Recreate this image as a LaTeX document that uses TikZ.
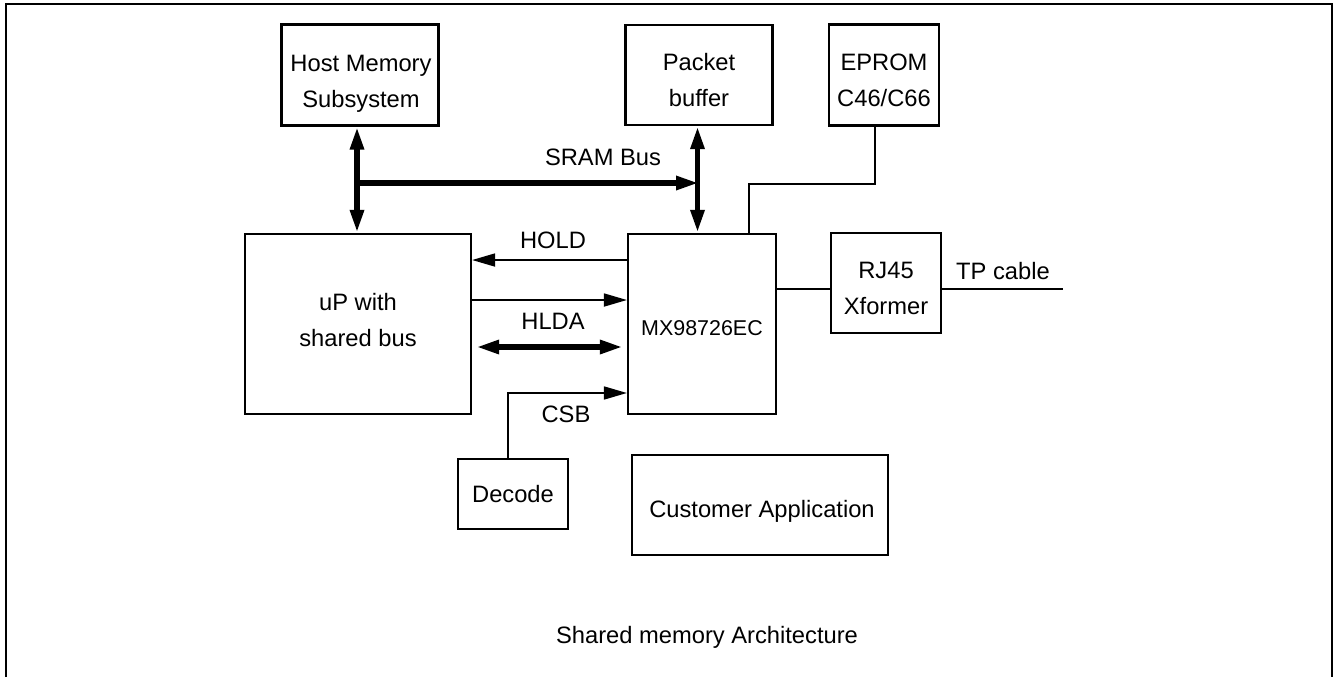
\documentclass[tikz,border=0pt]{standalone}
\usepackage{fontspec}
\setmainfont{Liberation Sans}
\usetikzlibrary{arrows.meta}

\begin{document}
\begin{tikzpicture}[x=0.02cm,y=-0.02cm,>={Triangle[length=0.46cm,width=0.26cm]},
    blk/.style={draw,line width=1.3pt,inner sep=0pt},
    txt/.style={align=center,font=\fontsize{13.5}{20.5}\selectfont},
    sig/.style={line width=1pt},
    bus/.style={line width=3.2pt}]
  \useasboundingbox (0,0) rectangle (1334,677);
  \draw[line width=1.5pt] (6,677)--(6,4)--(1332,4)--(1332,677);

  % blocks
  \node[blk,minimum width=3.14cm,minimum height=2.02cm] (host) at (360,75) {};
  \node[blk,minimum width=2.94cm,minimum height=2cm] (pbuf) at (699,75) {};
  \node[blk,minimum width=2.2cm,minimum height=2.02cm] (eprom) at (884,75) {};
  \node[blk,minimum width=4.52cm,minimum height=3.6cm] (up) at (358,324) {};
  \node[blk,minimum width=2.96cm,minimum height=3.6cm] (mx) at (702,324) {};
  \node[blk,minimum width=2.2cm,minimum height=2cm] (rj) at (886,283) {};
  \node[blk,minimum width=2.2cm,minimum height=1.4cm] (dec) at (513,494) {};
  \node[blk,minimum width=5.12cm,minimum height=2cm] (cust) at (760,505) {};

  \node[txt] (hosttxt) at (361,84) {Host Memory\\Subsystem};
  \node[txt] (pbuftxt) at (699,80) {Packet\\buffer};
  \node[txt] (epromtxt) at (884,80) {EPROM\\C46/C66};
  \node[txt] (uptxt) at (358,320) {uP with\\shared bus};
  \node[txt,font=\fontsize{12.2}{15}\selectfont] (mxtxt) at (702,328) {MX98726EC};
  \node[txt] (rjtxt) at (886,288) {RJ45\\Xformer};
  \node[txt] (dectxt) at (513,494) {Decode};
  \node[txt] (custtxt) at (762,511) {Customer Application};

  % SRAM bus
  \draw[bus,<->] ([xshift=-0.06cm]host.south) -- ([xshift=-0.06cm]host.south |- up.north);
  \draw[bus,<->] ([xshift=-0.03cm]pbuf.south) -- ([xshift=-0.03cm]pbuf.south |- mx.north);
  \coordinate (sram) at (357,183);
  \draw[bus,->] (sram) -- (sram -| pbuf.south);
  \node[txt] (sramlbl) at (603,157) {SRAM Bus};

  % control lines
  \draw[sig,->] ([yshift=1.28cm]mx.west) -- ([yshift=1.28cm]up.east);
  \node[txt] (hold) at (553,240) {HOLD};
  \draw[sig,->] ([yshift=0.48cm]up.east) -- ([yshift=0.48cm]mx.west);
  \node[txt] (hlda) at (553,321) {HLDA};
  \draw[bus,<->] ([yshift=-0.46cm,xshift=0.08cm]up.east) -- ([yshift=-0.46cm,xshift=-0.08cm]mx.west);
  \draw[sig,->] ([xshift=-0.1cm]dec.north) |- ([yshift=-1.38cm]mx.west);
  \node[txt] (csb) at (566,414) {CSB};

  \draw[sig] ([xshift=-0.18cm]eprom.south) -- ++(0,-1.14cm) -| ([xshift=0.94cm]mx.north);
  \draw[sig] ([yshift=0.7cm]mx.east) -- ([yshift=-0.12cm]rj.west);
  \draw[sig] ([yshift=-0.12cm]rj.east) -- ++(2.42cm,0) coordinate (tpend);
  \node[txt] (tp) at (1003,271) {TP cable};

  \node[txt] (title) at (707,637) {Shared memory Architecture};
\end{tikzpicture}
\end{document}
